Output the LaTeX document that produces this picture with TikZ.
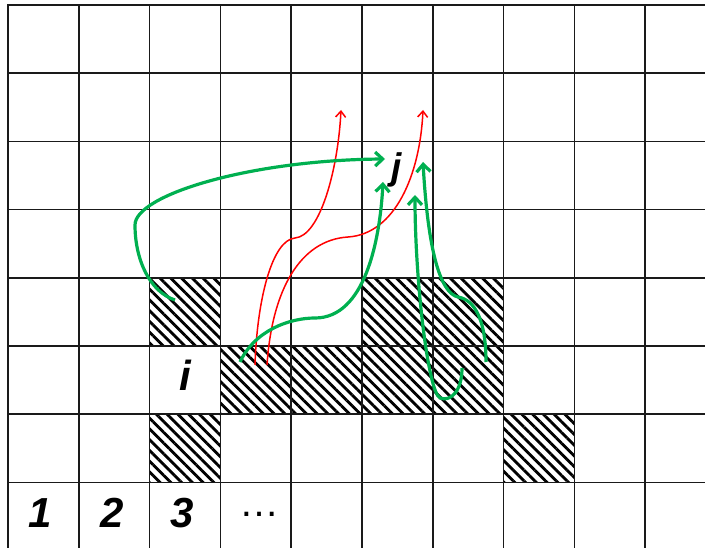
\documentclass[tikz,border=0pt]{standalone}
\usepackage{fontspec}
\setmainfont{Liberation Sans}
\usetikzlibrary{patterns.meta,arrows.meta}
\definecolor{gridc}{HTML}{1A1A1A}
\definecolor{grn}{HTML}{00B050}
\definecolor{rd}{HTML}{FF0000}
\begin{document}
\begin{tikzpicture}[x=1pt,y=-1pt,
  gridline/.style={gridc,line width=1.6pt},
  hatch/.style={pattern={Lines[angle=-45,distance=7.6pt,line width=2.8pt]},pattern color=black},
  lbl/.style={font=\fontsize{42}{42}\selectfont\bfseries\itshape, inner sep=0pt, anchor=base},
  dotslbl/.style={font=\fontsize{40}{40}\selectfont, inner sep=0pt, anchor=base},
  redarr/.style={rd,line width=1.5pt,-{Straight Barb[length=6pt,width=10pt]}},
  grnarr/.style={grn,line width=3.2pt,-{Straight Barb[length=7.5pt,width=14pt]}}]
\useasboundingbox (0,0) rectangle (705,548);
\fill[white] (0,0) rectangle (705,548);
\clip (0,0) rectangle (705,548);
% hatched cells (column, row)
\foreach \c/\r in {2/4,5/4,6/4,3/5,4/5,5/5,6/5,2/6,7/6}
  \fill[hatch] ({8+70.8*\c},{5+68.2*\r}) rectangle ({8+70.8*(\c+1)},{5+68.2*(\r+1)});
% grid
\foreach \k in {0,...,9} \draw[gridline] ({8+70.8*\k},4.2) -- ({8+70.8*\k},548);
\foreach \k in {0,...,7} \draw[gridline] (7.2,{5+68.2*\k}) -- (705,{5+68.2*\k});
% labels
\node[lbl] (n1) at (40,527) {1};
\node[lbl] (n2) at (112,527) {2};
\node[lbl] (n3) at (182,527) {3};
\node[dotslbl] (ndots) at (259,516) {…};
\node[lbl] (ni) at (185,391) {i};
\node[lbl,font=\fontsize{37}{37}\selectfont\bfseries\itshape] (nj) at (397,180) {j};
% curve end points
\coordinate (r1s) at (255,365); \coordinate (r1t) at (341,110);
\coordinate (r2s) at (267,365); \coordinate (r2t) at (423,110);
\coordinate (g1s) at (175,300); \coordinate (g1t) at (385,159);
\coordinate (g2s) at (240,362); \coordinate (g2t) at (383,182);
\coordinate (g3s) at (462,368); \coordinate (g3t) at (415,195);
\coordinate (g4s) at (486,362); \coordinate (g4t) at (423,162);
% red curves
\draw[redarr] (r1s) .. controls (257,300) and (272,240) .. (295,238)
  .. controls (320,236) and (338,170) .. (r1t);
\draw[redarr] (r2s) .. controls (272,290) and (300,240) .. (348,237)
  .. controls (395,234) and (420,175) .. (r2t);
% green curves
\draw[grnarr] (g1s) .. controls (150,292) and (135,260) .. (135,225)
  .. controls (135,195) and (250,160) .. (g1t);
\draw[grnarr] (g2s) .. controls (255,330) and (290,318) .. (315,318)
  .. controls (365,318) and (380,240) .. (g2t);
\draw[grnarr] (g3s) .. controls (462,392) and (450,402) .. (440,398)
  .. controls (428,392) and (415,280) .. (g3t);
\draw[grnarr] (g4s) .. controls (486,320) and (475,300) .. (458,297)
  .. controls (440,293) and (428,250) .. (g4t);
\end{tikzpicture}
\end{document}
